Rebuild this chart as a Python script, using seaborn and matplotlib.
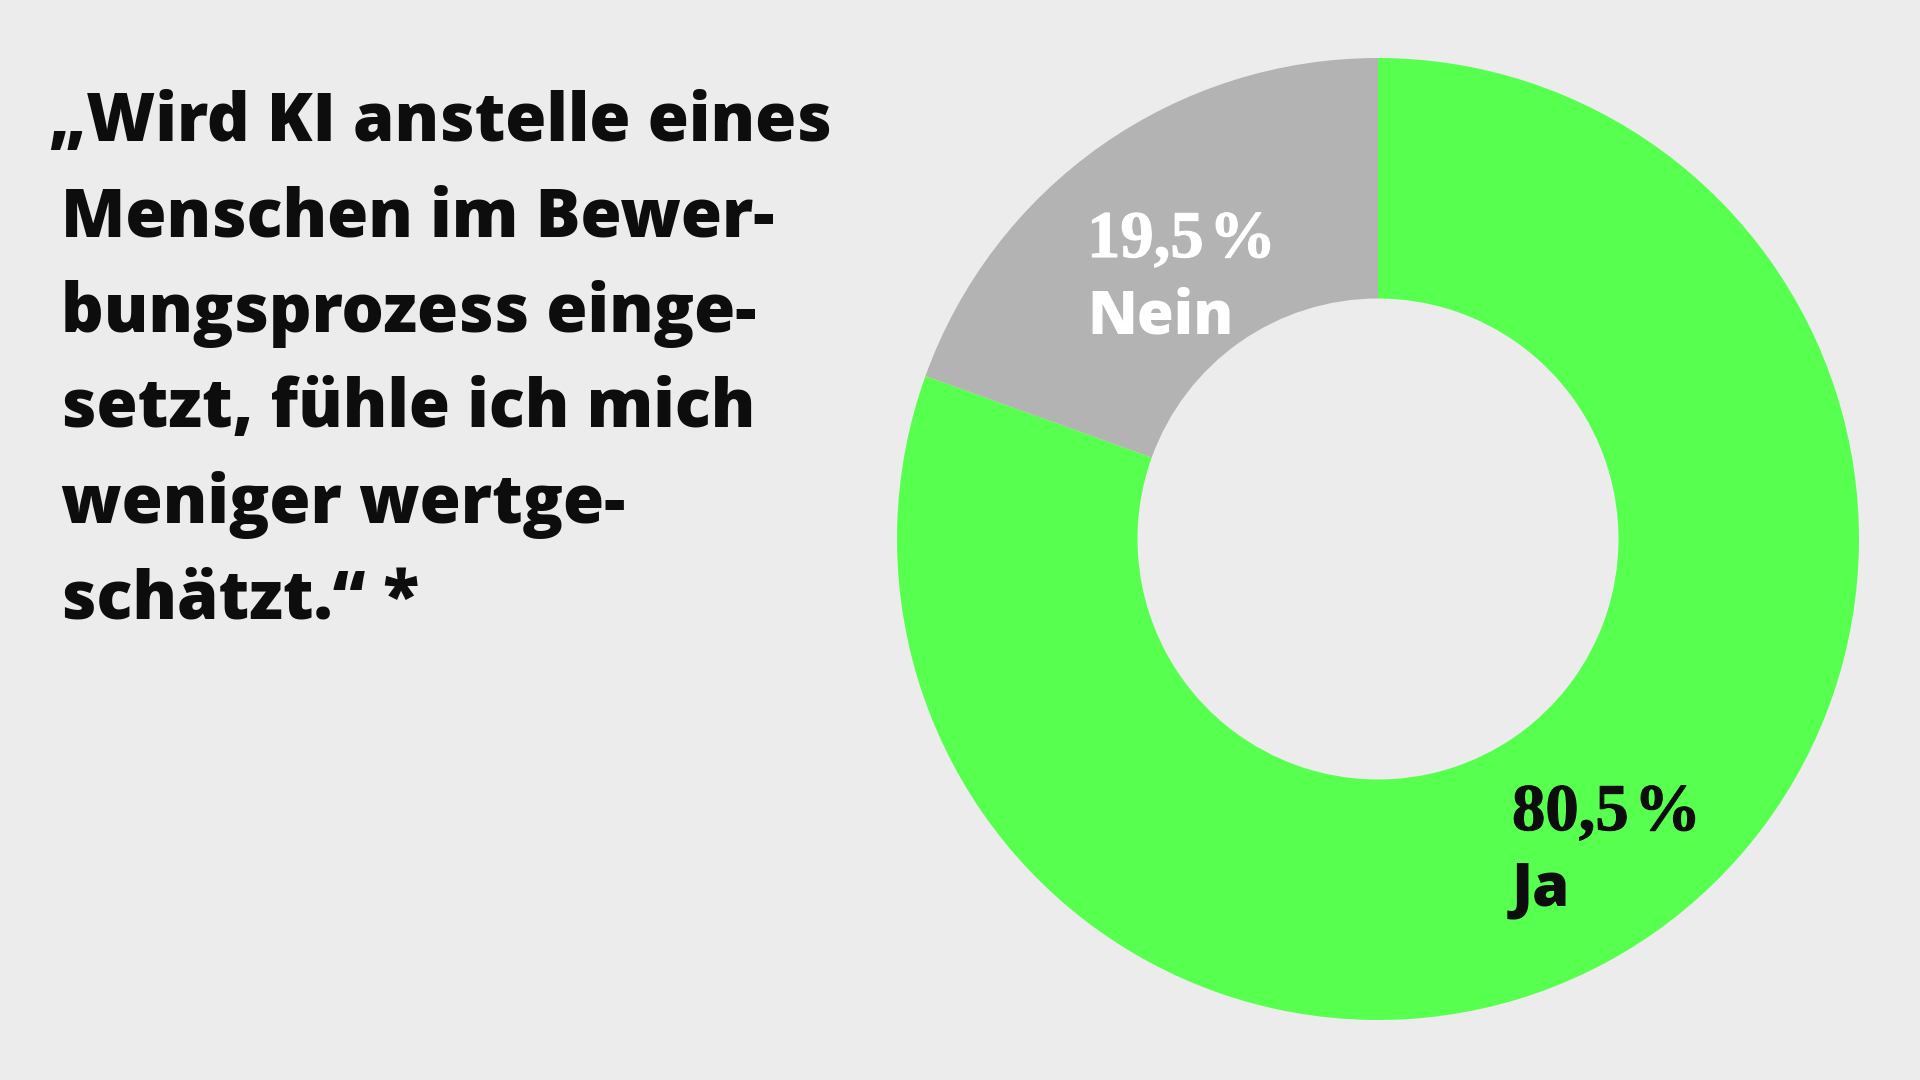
import matplotlib
matplotlib.use("Agg")
import matplotlib.pyplot as plt
import matplotlib.patheffects as pe
import seaborn as sns

# data
answers = ["Ja", "Nein"]
shares = [80.5, 19.5]
share_labels = ["80,5\u200a%", "19,5\u200a%"]
slice_colors = ["#57ff4f", "#b3b3b3"]
label_colors = ["#0d0d0d", "#ffffff"]

title_lines = [
    "\u201eWird KI anstelle eines",
    "Menschen im Bewer-",
    "bungsprozess einge-",
    "setzt, fühle ich mich",
    "weniger wertge-",
    "schätzt.\u201c *",
]

BG = "#ececec"
W, H = 1920, 1080

sns.set_theme(style="white", rc={"figure.facecolor": BG, "axes.facecolor": BG})
plt.rcParams["font.family"] = ["Open Sans", "DejaVu Sans"]

fig = plt.figure(figsize=(W / 100, H / 100), dpi=100)
fig.patch.set_facecolor(BG)

# donut, centre at (1378, 539) px, outer radius ~481 px
size = 1000
cx, cy = 1378, 539
ax = fig.add_axes([(cx - size / 2) / W, (H - cy - size / 2) / H, size / W, size / H])
ax.set_facecolor(BG)
ax.pie(shares, colors=slice_colors, startangle=90, counterclock=False,
       wedgeprops=dict(width=0.5, linewidth=0))
lim = 500 / 481
ax.set_xlim(-lim, lim)
ax.set_ylim(-lim, lim)
ax.axis("off")


def px(x, y):
    return x / W, 1 - y / H


# title
fs_title = 48
for i, line in enumerate(title_lines):
    x0 = 49 if i == 0 else 61
    fig.text(*px(x0, 141 + i * 95.5), line, fontsize=fs_title, fontweight=800,
             color="#0d0d0d", va="baseline", ha="left")

# slice labels
label_pos = {"Ja": (1512, 830, 905), "Nein": (1087, 257, 333)}
serif = ["Liberation Serif", "DejaVu Serif"]
for name, lab, col in zip(answers, share_labels, label_colors):
    x0, yb1, yb2 = label_pos[name]
    fig.text(*px(x0, yb1), lab, fontsize=48, fontweight="bold", family=serif,
             color=col, va="baseline", ha="left",
             path_effects=[pe.withStroke(linewidth=0.8, foreground=col)])
    fig.text(*px(x0, yb2), name, fontsize=43, fontweight=800,
             color=col, va="baseline", ha="left")

fig.savefig("out.png", dpi=100, facecolor=BG)
